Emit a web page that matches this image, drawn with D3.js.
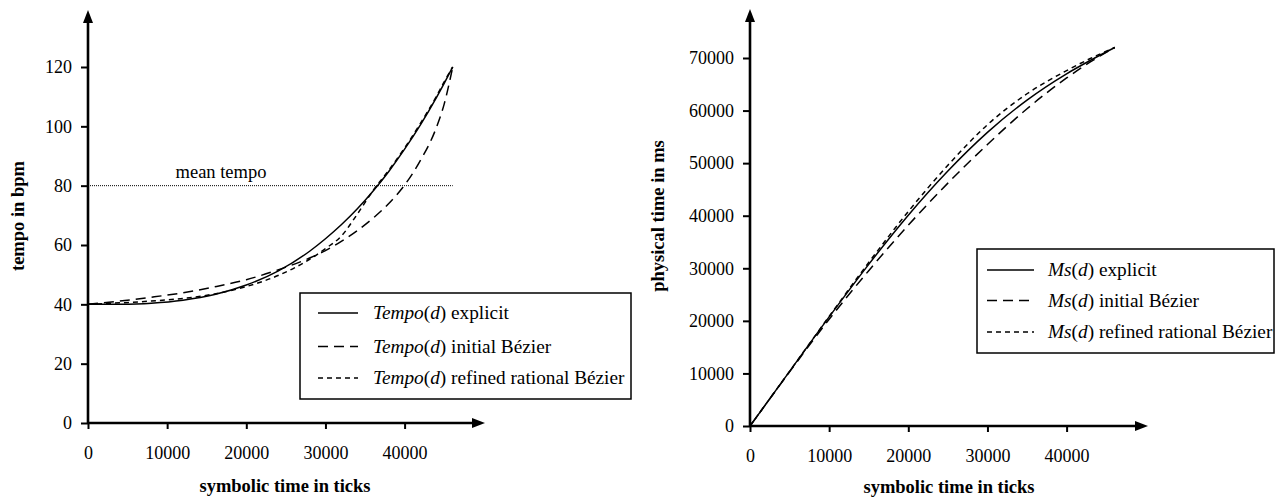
<!DOCTYPE html>
<html>
<head>
<meta charset="utf-8">
<script src="https://cdn.jsdelivr.net/npm/d3@7"></script>
<style>
  body { margin: 0; background: #fff; }
</style>
</head>
<body>
<svg width="1275" height="500"></svg>
<script>
var FONT = '"Liberation Serif", "Times New Roman", Times, serif';

var ticksT = [0, 4000, 8000, 12000, 16000, 20000, 24000, 28000, 30000, 32000, 34000, 36000, 38000, 40000, 42000, 44000, 45000, 46080];
var tempoExplicit = [40, 40.05, 40.4, 41.4, 43.3, 46.5, 51.2, 57.9, 62.1, 66.8, 72.1, 78.1, 84.8, 92.3, 100.5, 109.6, 114.5, 120];
var tempoInitial  = [40, 41.1, 42.4, 43.9, 45.9, 48.3, 51.6, 55.6, 58.1, 61.2, 64.8, 69, 74, 80.2, 88.5, 99.5, 107.5, 120];
var tempoRefined  = [40, 40.5, 41.1, 42, 43.5, 46, 49.7, 55.2, 58.8, 63, 70.3, 78.3, 85.2, 92.7, 101, 110, 115, 120];
var meanTempo = 80;

var ticksM = [0, 5000, 10000, 15000, 20000, 25000, 30000, 35000, 40000, 43000, 46080];
var msExplicit = [0, 10400, 20750, 30750, 40100, 48500, 55850, 62000, 67000, 69550, 72000];
var msInitial  = [0, 10300, 20300, 29550, 38200, 46200, 53550, 60350, 66200, 69250, 72000];
var msRefined  = [0, 10400, 20850, 31100, 40800, 49600, 57300, 63200, 67600, 69900, 72000];

var xTicks = [0, 10000, 20000, 30000, 40000];
var yTicksTempo = [0, 20, 40, 60, 80, 100, 120];
var yTicksMs = [0, 10000, 20000, 30000, 40000, 50000, 60000, 70000];

var styles = [
  {dash: null},
  {dash: '10,6'},
  {dash: '5,4'}
];

var svg = d3.select('svg');

function zip(xs, ys) { return xs.map((x, i) => [x, ys[i]]); }

function panel(o) {
  var g = svg.append('g');
  var x = d3.scaleLinear().domain([0, 50000]).range([o.x0, o.x0 + 395.75]);
  var y = d3.scaleLinear().domain(o.yDom).range(o.yRange);

  // ticks
  g.append('g')
    .attr('transform', `translate(0,${o.yBase})`)
    .call(d3.axisBottom(x).tickValues(xTicks).tickFormat(d3.format('d')).tickSizeInner(6).tickSizeOuter(0).tickPadding(17))
    .call(a => a.select('.domain').remove())
    .call(a => a.selectAll('line').attr('stroke-width', 2))
    .call(a => a.attr('font-family', FONT).attr('font-size', 18));
  g.append('g')
    .attr('transform', `translate(${o.x0},0)`)
    .call(d3.axisLeft(y).tickValues(o.yTicks).tickFormat(d3.format('d')).tickSizeInner(7).tickSizeOuter(0).tickPadding(9))
    .call(a => a.select('.domain').remove())
    .call(a => a.selectAll('line').attr('stroke-width', 2))
    .call(a => a.attr('font-family', FONT).attr('font-size', 18));

  // axis lines with arrows
  g.append('line').attr('x1', o.x0).attr('x2', o.xEnd - 10).attr('y1', o.yBase).attr('y2', o.yBase)
    .attr('stroke', '#000').attr('stroke-width', 2.6);
  g.append('line').attr('x1', o.x0).attr('x2', o.x0).attr('y1', o.yBase).attr('y2', o.yTop + 10)
    .attr('stroke', '#000').attr('stroke-width', 2.6);
  g.append('path').attr('d', `M${o.xEnd},${o.yBase} L${o.xEnd - 13},${o.yBase - 5} L${o.xEnd - 13},${o.yBase + 5} Z`);
  g.append('path').attr('d', `M${o.x0},${o.yTop} L${o.x0 - 5},${o.yTop + 13} L${o.x0 + 5},${o.yTop + 13} Z`);

  if (o.mean != null) {
    g.append('line').attr('x1', o.x0).attr('x2', x(46080)).attr('y1', y(o.mean)).attr('y2', y(o.mean))
      .attr('stroke', '#000').attr('stroke-width', 1).attr('stroke-dasharray', '1,1');
    g.append('text').attr('x', 221).attr('y', y(o.mean) - 8).attr('text-anchor', 'middle')
      .attr('font-family', FONT).attr('font-size', 18.5).text('mean tempo');
  }

  var line = d3.line().x(d => x(d[0])).y(d => y(d[1])).curve(d3.curveMonotoneX);
  o.series.forEach((s, i) => {
    g.append('path').attr('d', line(zip(o.xs, s)))
      .attr('fill', 'none').attr('stroke', '#000').attr('stroke-width', 1.5)
      .attr('stroke-dasharray', styles[i].dash);
  });

  // axis titles
  g.append('text').attr('x', o.xLabelX).attr('y', o.xLabelY).attr('text-anchor', 'middle')
    .attr('font-family', FONT).attr('font-size', 18.5).attr('font-weight', 'bold').text('symbolic time in ticks');
  g.append('text').attr('transform', `translate(${o.yLabelX},216) rotate(-90)`).attr('text-anchor', 'middle')
    .attr('font-family', FONT).attr('font-size', 18.5).attr('font-weight', 'bold').text(o.yLabel);

  // legend
  var L = o.legend;
  g.append('rect').attr('x', L.x).attr('y', L.y).attr('width', L.w).attr('height', L.h)
    .attr('fill', '#fff').attr('stroke', '#000').attr('stroke-width', 1.5);
  L.rows.forEach((ry, i) => {
    g.append('line').attr('x1', L.lx1).attr('x2', L.lx2).attr('y1', ry).attr('y2', ry)
      .attr('stroke', '#000').attr('stroke-width', 1.5).attr('stroke-dasharray', styles[i].dash);
    var t = g.append('text').attr('x', L.tx).attr('y', ry + 6)
      .attr('font-family', FONT).attr('font-size', 19.3);
    t.append('tspan').attr('font-style', 'italic').text(o.fname);
    t.append('tspan').text('(');
    t.append('tspan').attr('font-style', 'italic').text('d');
    t.append('tspan').text(') ' + o.names[i]);
  });
}

panel({
  x0: 88, xEnd: 485, yBase: 423, yTop: 10,
  yDom: [0, 120], yRange: [423, 67], yTicks: yTicksTempo,
  xs: ticksT, series: [tempoExplicit, tempoInitial, tempoRefined],
  mean: meanTempo,
  xLabelX: 285, xLabelY: 492, yLabelX: 24, yLabel: 'tempo in bpm',
  fname: 'Tempo', names: ['explicit', 'initial Bézier', 'refined rational Bézier'],
  legend: {x: 300, y: 293, w: 331, h: 106, rows: [313, 346.5, 378], lx1: 318, lx2: 358, tx: 373}
});

panel({
  x0: 750, xEnd: 1148, yBase: 426, yTop: 9,
  yDom: [0, 70000], yRange: [426, 58], yTicks: yTicksMs,
  xs: ticksM, series: [msExplicit, msInitial, msRefined],
  mean: null,
  xLabelX: 949, xLabelY: 493, yLabelX: 664, yLabel: 'physical time in ms',
  fname: 'Ms', names: ['explicit', 'initial Bézier', 'refined rational Bézier'],
  legend: {x: 977, y: 249, w: 297, h: 104, rows: [270, 300.5, 332], lx1: 987, lx2: 1034, tx: 1048}
});
</script>
</body>
</html>
